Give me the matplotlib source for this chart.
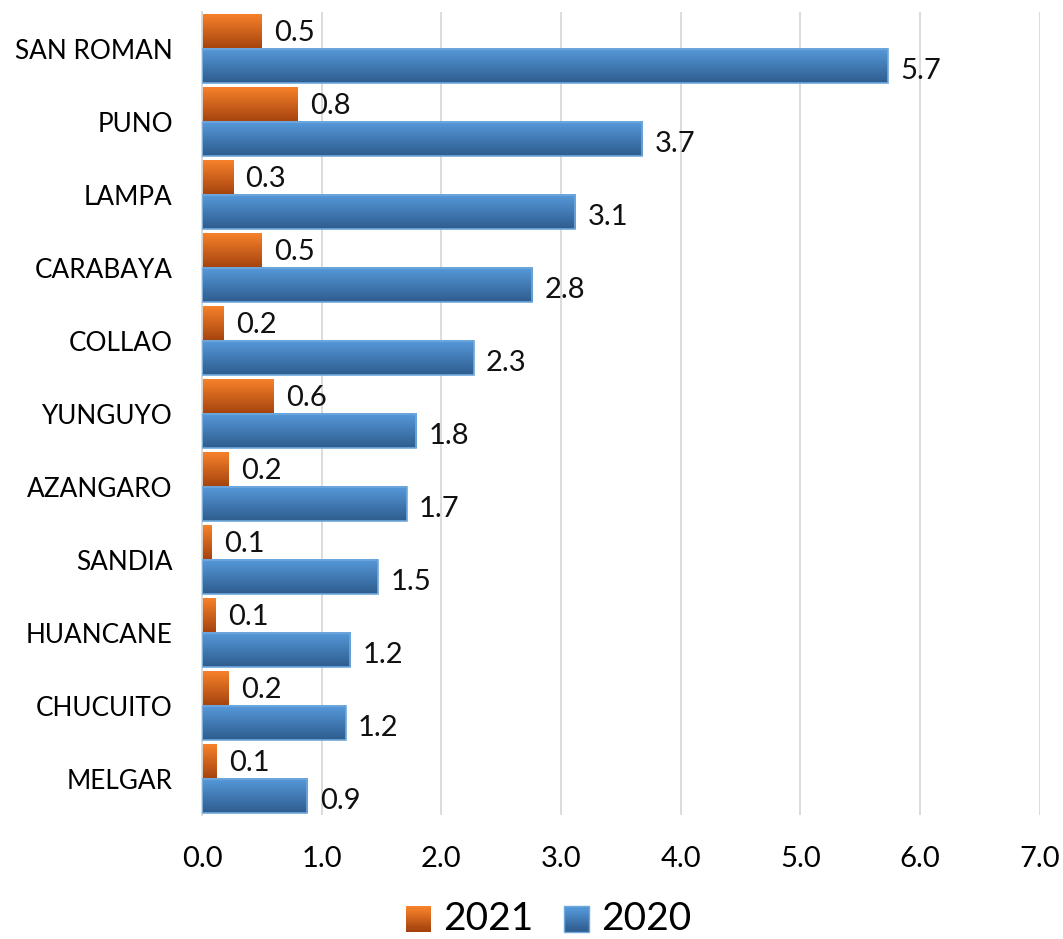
import matplotlib
matplotlib.use('Agg')
import matplotlib.pyplot as plt
import numpy as np
from matplotlib.colors import LinearSegmentedColormap
from matplotlib.legend_handler import HandlerBase
from matplotlib.patches import Rectangle

plt.rcParams['font.family'] = ['Lato', 'DejaVu Sans']

provinces = ['SAN ROMAN', 'PUNO', 'LAMPA', 'CARABAYA', 'COLLAO', 'YUNGUYO',
             'AZANGARO', 'SANDIA', 'HUANCANE', 'CHUCUITO', 'MELGAR']
values_2021 = [0.50, 0.80, 0.26, 0.50, 0.18, 0.60, 0.22, 0.08, 0.11, 0.22, 0.12]
values_2020 = [5.73, 3.68, 3.12, 2.76, 2.27, 1.79, 1.71, 1.47, 1.24, 1.20, 0.88]
series_labels = ['2021', '2020']
x_ticks = [0, 1, 2, 3, 4, 5, 6, 7]

orange_grad = ('#F7812A', '#A4430E')
blue_grad = ('#5699DA', '#2E5D8F')


def gradient_cmap(top, bottom):
    return LinearSegmentedColormap.from_list('g', [bottom, top])


def fill_gradient(ax, patch, colors):
    x0, y0 = patch.get_x(), patch.get_y()
    w, h = patch.get_width(), patch.get_height()
    grad = np.linspace(0, 1, 64).reshape(-1, 1)
    ax.imshow(grad, extent=[x0, x0 + w, y0, y0 + h], origin='lower',
              cmap=gradient_cmap(*colors), aspect='auto', zorder=2,
              interpolation='bilinear')


class GradientHandler(HandlerBase):
    def __init__(self, colors, edge=None):
        super().__init__()
        self.colors = colors
        self.edge = edge

    def create_artists(self, legend, orig_handle, xdescent, ydescent,
                       width, height, fontsize, trans):
        size = fontsize * 0.65
        x0 = xdescent + width - size
        y0 = -ydescent - 1
        cmap = gradient_cmap(*self.colors)
        n = 12
        arts = []
        for k in range(n):
            r = Rectangle((x0, y0 + size * k / n), size, size / n + 0.3,
                          facecolor=cmap(k / (n - 1)), edgecolor='none',
                          transform=trans)
            arts.append(r)
        if self.edge:
            arts.append(Rectangle((x0, y0), size, size, facecolor='none',
                                  edgecolor=self.edge, linewidth=1, transform=trans))
        return arts


fig = plt.figure(figsize=(10.63, 9.39), dpi=100)
ax = fig.add_axes([0.19, 0.132, 0.788, 0.855])

n = len(provinces)
y = np.arange(n)[::-1].astype(float)
h = 0.47

bars_21 = ax.barh(y + h / 2, values_2021, height=h, color='none', edgecolor='none', zorder=3)
bars_20 = ax.barh(y - h / 2, values_2020, height=h, color='none', edgecolor='#6FA8DC',
                  linewidth=1.2, zorder=3)
for p in bars_21:
    fill_gradient(ax, p, orange_grad)
for p in bars_20:
    fill_gradient(ax, p, blue_grad)

for p, v in zip(bars_21, values_2021):
    ax.annotate(f'{v:.1f}', (p.get_width(), p.get_y() + p.get_height() / 2),
                xytext=(9, -1), textcoords='offset points', va='center', ha='left',
                fontsize=21, color='#111111')
for p, v in zip(bars_20, values_2020):
    ax.annotate(f'{v:.1f}', (p.get_width(), p.get_y() + p.get_height() / 2),
                xytext=(9, -4), textcoords='offset points', va='center', ha='left',
                fontsize=21, color='#111111')

ax.set_xlim(0, 7)
ax.set_ylim(-0.5, n - 0.5)
ax.set_xticks(x_ticks)
ax.set_xticklabels([f'{t:.1f}' for t in x_ticks], fontsize=21)
ax.set_yticks(y)
ax.set_yticklabels(provinces, fontsize=18.8)
ax.tick_params(axis='both', length=0)
ax.tick_params(axis='x', pad=22)
ax.tick_params(axis='y', pad=21)
ax.grid(axis='x', color='#D9D9D9', linewidth=1.3, zorder=0)
ax.set_axisbelow(True)
for side in ['top', 'right', 'bottom']:
    ax.spines[side].set_visible(False)
ax.spines['left'].set_color('#D9D9D9')
ax.spines['left'].set_linewidth(1.3)

h1 = Rectangle((0, 0), 1, 1)
h2 = Rectangle((0, 0), 1, 1)
fig.legend([h1, h2], series_labels, loc='center', bbox_to_anchor=(0.516, 0.021),
           ncol=2, frameon=False, fontsize=28, handlelength=0.65, handletextpad=0.3,
           columnspacing=0.8, borderaxespad=0, borderpad=0,
           handler_map={h1: GradientHandler(orange_grad),
                        h2: GradientHandler(blue_grad, edge='#6FA8DC')})

fig.savefig('out.png', dpi=100)
